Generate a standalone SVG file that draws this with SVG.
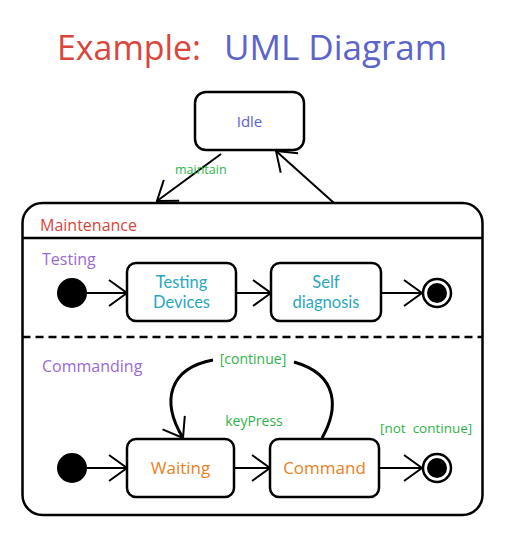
<svg xmlns="http://www.w3.org/2000/svg" width="508" height="534" viewBox="0 0 508 534">
<defs>
<style>
.t{font-family:"Open Sans","Liberation Sans",sans-serif}
.l{font-family:Lato,"Open Sans",sans-serif}
.box{fill:#fff;stroke:#000;stroke-width:2.5}
.ln{fill:none;stroke:#000;stroke-width:2}
.g{fill:#2fb34a;font-size:14px}
.cy{fill:#2aa7c0;font-size:17px}
.or{fill:#ec8020;font-size:17px}
.pu{fill:#9a6ad3;font-size:16px}
</style>
<marker id="ah" viewBox="0 0 20 28" refX="19" refY="14" markerWidth="20" markerHeight="28" markerUnits="userSpaceOnUse" orient="auto">
<path d="M1,1 L19,14 L1,27" fill="none" stroke="#000" stroke-width="2"/>
</marker>
</defs>
<rect width="508" height="534" fill="#fff"/>
<text class="t" x="57" y="60" font-size="35" fill="#d9463b" textLength="144" lengthAdjust="spacingAndGlyphs">Example:</text>
<text class="t" x="224" y="60" font-size="35" fill="#5c63c9">UML Diagram</text>

<g id="idle">
<rect class="box" x="195" y="92" width="109" height="58" rx="11"/>
<text class="t" x="249.5" y="127" font-size="15" fill="#5c63c9" text-anchor="middle">Idle</text>
</g>

<g id="maintenance">
<rect x="22.5" y="203" width="460" height="312" rx="20" fill="#fff" stroke="#000" stroke-width="2.5"/>
<line x1="22.5" y1="238" x2="482.5" y2="238" stroke="#000" stroke-width="2.5"/>
<text class="t" x="40" y="231" font-size="16" fill="#d9463b">Maintenance</text>
<line x1="22.5" y1="337" x2="482.5" y2="337" stroke="#000" stroke-width="2.5" stroke-dasharray="8,5"/>
<text class="t pu" x="42" y="265">Testing</text>
<text class="t pu" x="42" y="372">Commanding</text>
</g>

<g id="init1"><circle cx="72" cy="293" r="15" fill="#000"/></g>
<g id="testingDevices">
<rect class="box" x="127" y="263" width="109" height="58" rx="9"/>
<text class="l cy" x="181.5" y="288" text-anchor="middle" style="font-size:16.5px">Testing</text>
<text class="l cy" x="181.5" y="307.5" text-anchor="middle" style="font-size:16.5px">Devices</text>
</g>
<g id="selfDiagnosis">
<rect class="box" x="271" y="263" width="110" height="58" rx="9"/>
<text class="l cy" x="326" y="288" text-anchor="middle" style="font-size:16.5px">Self</text>
<text class="l cy" x="326" y="307.5" text-anchor="middle" style="font-size:16.5px">diagnosis</text>
</g>
<g id="final1">
<circle cx="437" cy="293" r="14" fill="#fff" stroke="#000" stroke-width="2.5"/>
<circle cx="437" cy="293" r="10" fill="#000"/>
</g>

<g id="init2"><circle cx="72" cy="468" r="15" fill="#000"/></g>
<g id="waiting">
<rect class="box" x="127" y="439" width="107" height="58" rx="9"/>
<text class="t or" x="180.5" y="474" text-anchor="middle">Waiting</text>
</g>
<g id="command">
<rect class="box" x="270" y="439" width="109" height="58" rx="9"/>
<text class="t or" x="324.5" y="474" text-anchor="middle">Command</text>
</g>
<g id="final2">
<circle cx="437" cy="468" r="14" fill="#fff" stroke="#000" stroke-width="2.5"/>
<circle cx="437" cy="468" r="10" fill="#000"/>
</g>

<g id="connectors">
<path class="ln" d="M221,154 L157,201" marker-end="url(#ah)"/>
<path class="ln" d="M334,203 L276,151" marker-end="url(#ah)"/>
<path class="ln" d="M87,293 L127,293" marker-end="url(#ah)"/>
<path class="ln" d="M236,293 L271,293" marker-end="url(#ah)"/>
<path class="ln" d="M381,293 L422,293" marker-end="url(#ah)"/>
<path class="ln" d="M87,468 L127,468" marker-end="url(#ah)"/>
<path class="ln" d="M234,468 L270,468" marker-end="url(#ah)"/>
<path class="ln" d="M379,468 L422,468" marker-end="url(#ah)"/>
<path d="M322,438 C338,410 340,375 294,362" fill="none" stroke="#000" stroke-width="3"/>
<path d="M213,360 C170,368 160,400 183,438" fill="none" stroke="#000" stroke-width="3" marker-end="url(#ah)"/>
<text class="t g" x="175" y="174" style="font-size:12.5px">maintain</text>
<text class="t g" x="253" y="364" text-anchor="middle">[continue]</text>
<text class="t g" x="254" y="426" text-anchor="middle">keyPress</text>
<text class="t g" x="380" y="433" style="white-space:pre;font-size:13.5px">[not  continue]</text>
</g>
</svg>
